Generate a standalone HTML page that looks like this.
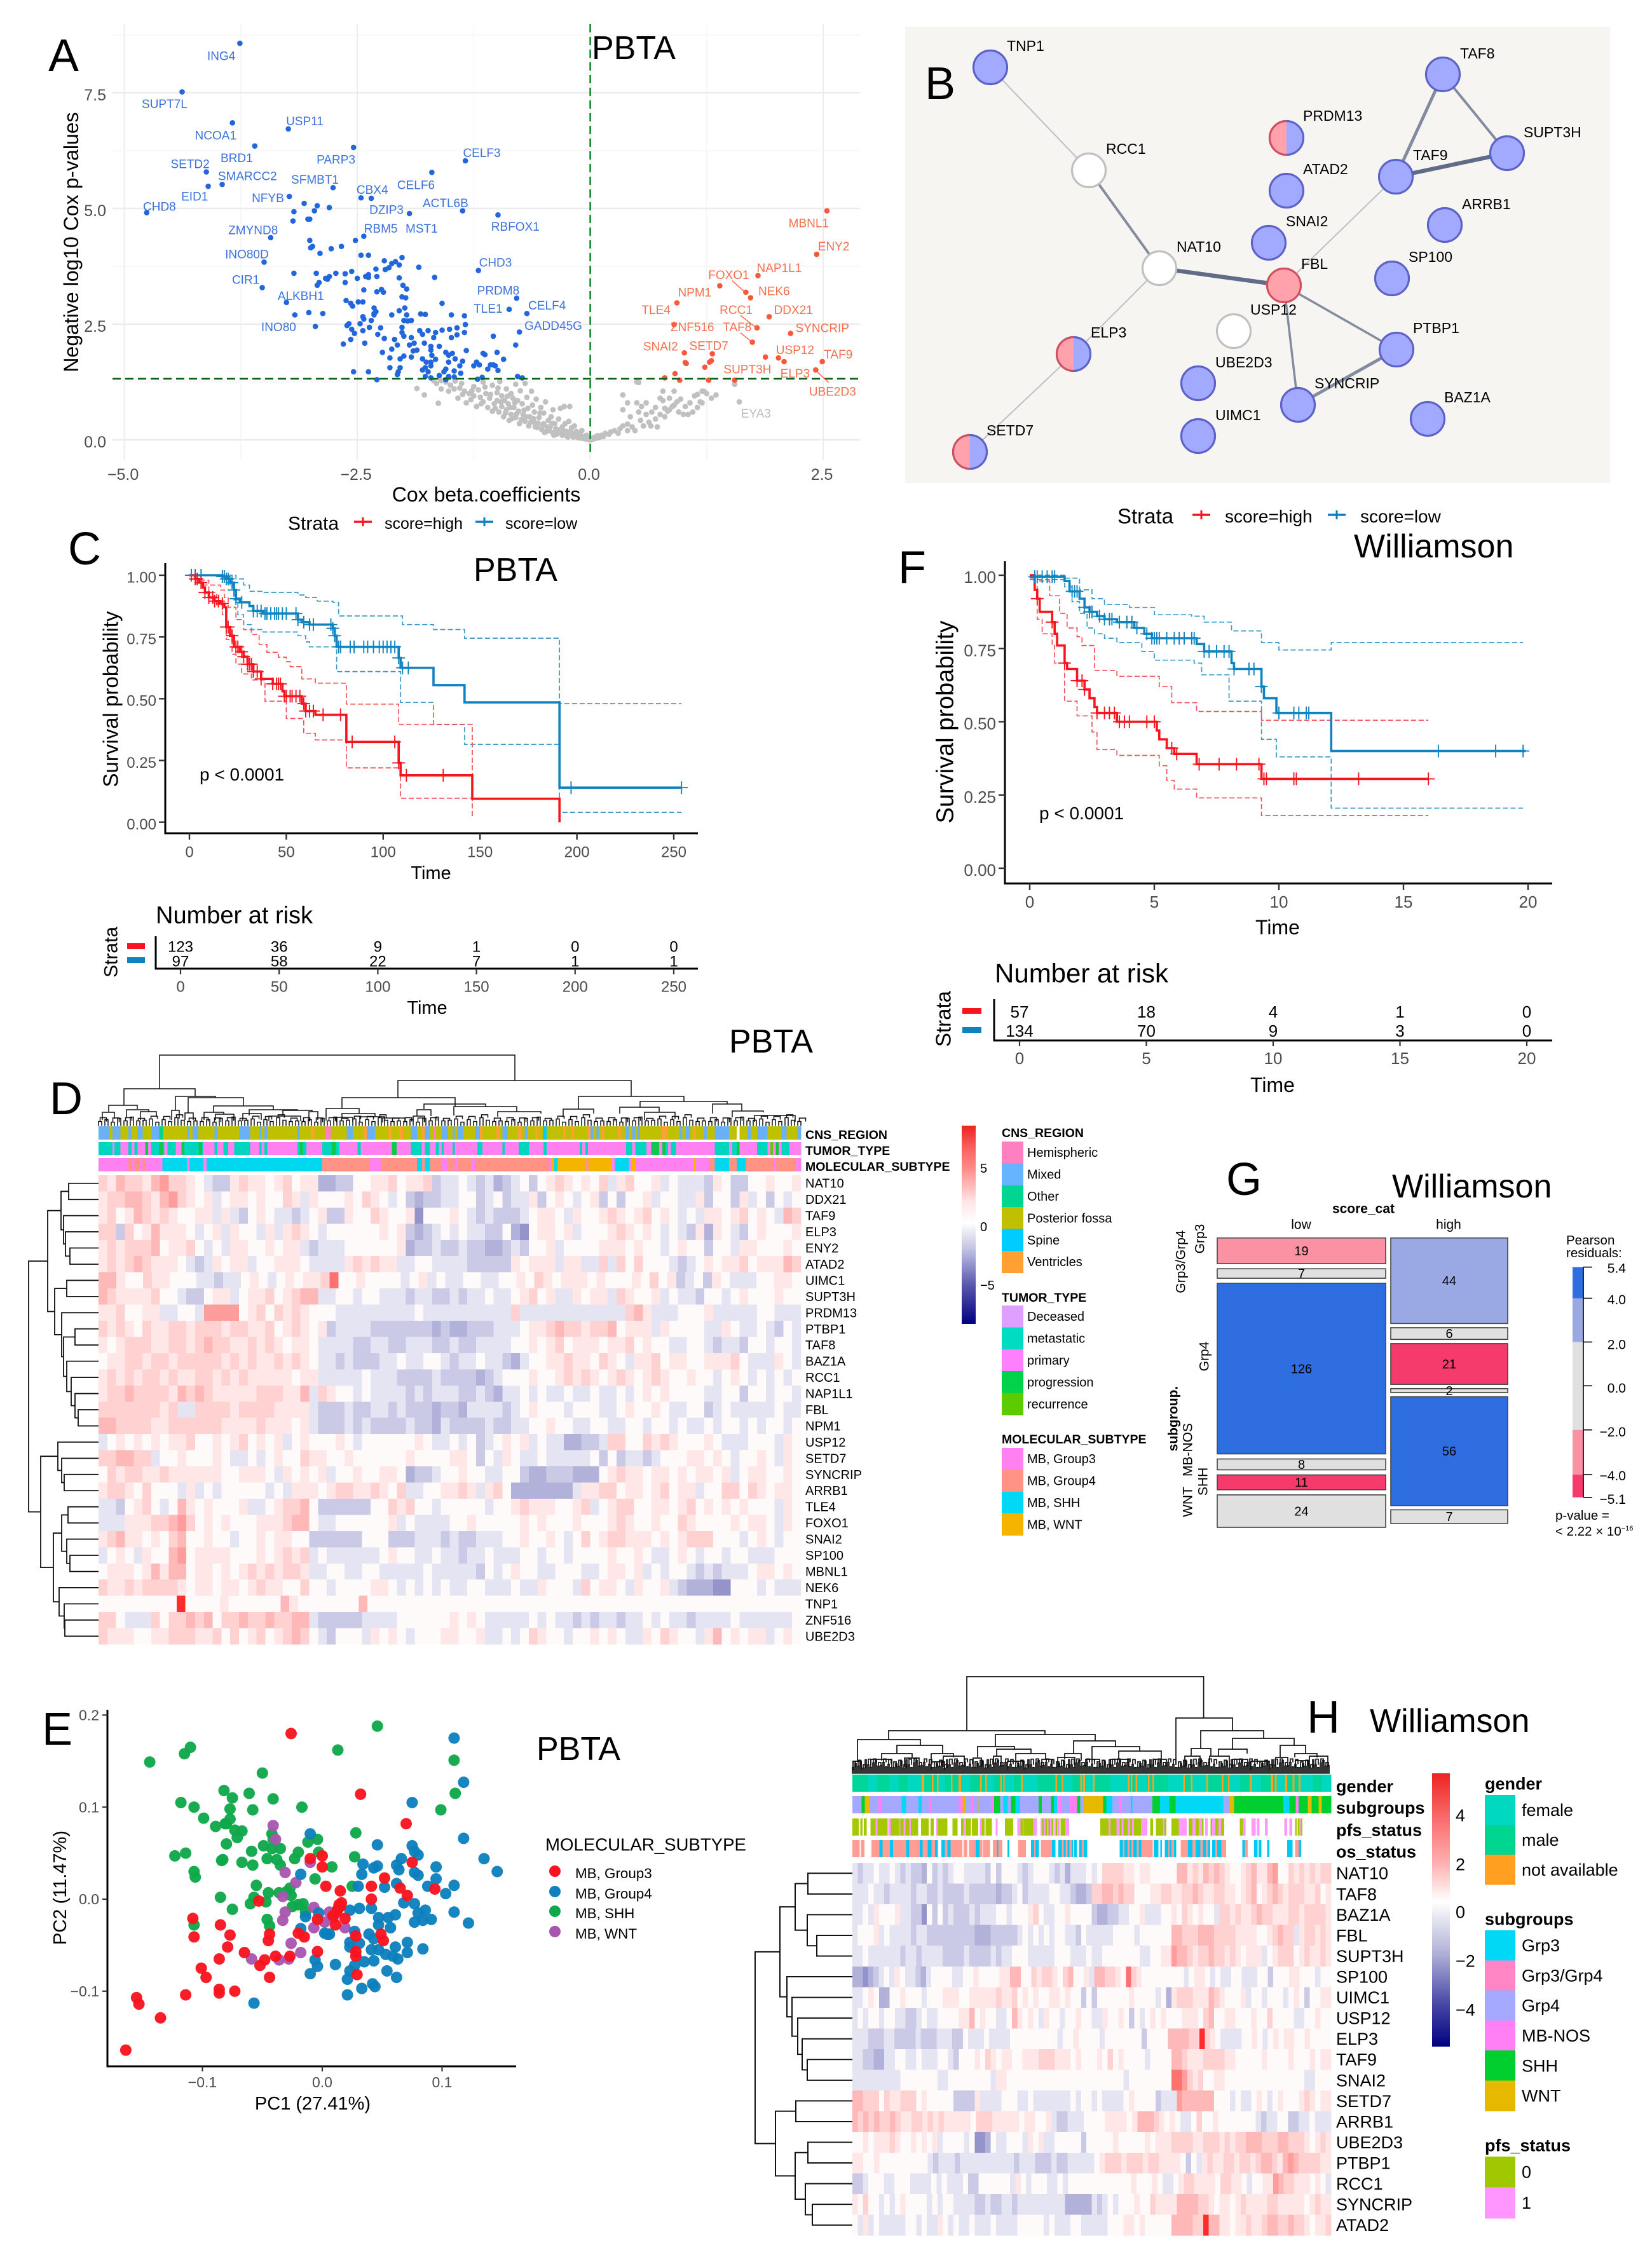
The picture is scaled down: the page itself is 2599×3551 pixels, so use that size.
<!DOCTYPE html>
<html lang="en">
<head>
<meta charset="utf-8">
<title>Multi-panel medulloblastoma figure</title>
<style>
html,body{margin:0;padding:0;background:#fff}
svg{display:block}
text{font-family:"Liberation Sans",Arial,sans-serif}
</style>
</head>
<body>
<svg id="fig" xmlns="http://www.w3.org/2000/svg" width="2599" height="3551" viewBox="0 0 2599 3551">
<rect x="0" y="0" width="2599" height="3551" fill="#fff"/>
<defs>
<linearGradient id="heatGradD" x1="0" y1="0" x2="0" y2="1">
<stop offset="0" stop-color="#ee2222"/><stop offset=".11" stop-color="#f96060"/><stop offset=".22" stop-color="#ff8c8c"/><stop offset=".38" stop-color="#ffe4e4"/><stop offset=".49" stop-color="#ffffff"/><stop offset=".62" stop-color="#c4c4e4"/><stop offset=".8" stop-color="#5a5ab0"/><stop offset="1" stop-color="#000080"/>
</linearGradient>
<linearGradient id="heatGradH" x1="0" y1="0" x2="0" y2="1">
<stop offset="0" stop-color="#ee2222"/><stop offset=".16" stop-color="#f96a6a"/><stop offset=".33" stop-color="#ffb0b0"/><stop offset=".47" stop-color="#ffffff"/><stop offset=".66" stop-color="#b0b0d8"/><stop offset=".84" stop-color="#4a4aa8"/><stop offset="1" stop-color="#000080"/>
</linearGradient>
</defs>
</svg>
<script>
/* ---------- Panel A: volcano data [beta, -log10 p] ---------- */
const volcanoBlue=[[-3.76,8.57],[-4.38,7.52],[-3.84,6.85],[-3.24,6.72],[-3.60,6.35],[-2.54,6.32],[-1.34,6.03],[-4.12,5.79],[-4.10,5.48],[-3.95,5.52],[-1.70,5.78],[-2.76,5.45],[-4.76,4.91],[-3.23,5.26],[-2.46,5.23],[-2.35,5.22],[-3.07,5.11],[-2.93,5.06],[-2.96,4.95],[-2.80,5.02],[-3.18,4.93],[-1.94,4.89],[-1.37,4.95],[-0.99,4.86],[-3.19,4.73],[-3.03,4.77],[-3.01,4.77],[-3.43,4.37],[-2.43,4.40],[-2.52,4.31],[-3.01,4.31],[-2.98,4.18],[-3.00,4.15],[-2.90,4.03],[-2.78,4.13],[-2.67,4.18],[-2.46,3.99],[-2.38,3.99],[-2.02,3.94],[-2.21,3.87],[-3.50,3.84],[-3.52,3.29],[-1.20,3.66],[-0.79,3.06],[-0.87,2.82],[-0.68,2.73],
[-2.30,3.69],[-2.20,3.68],[-2.16,3.72],[-2.13,3.81],[-2.09,3.85],[-2.05,3.78],[-1.84,3.73],[-2.38,3.57],[-2.41,3.53],[-2.56,3.64],[-2.63,3.59],[-2.73,3.60],[-2.80,3.53],[-2.82,3.47],[-2.84,3.49],[-2.94,3.60],[-3.18,3.60],[-1.67,3.51],[-2.05,3.50],[-2.50,3.49],[-2.38,3.51],[-2.29,3.53],
[-2.63,3.40],[-2.43,3.24],[-2.29,3.20],[-2.24,3.25],[-2.22,3.19],[-2.01,3.34],[-1.97,3.26],[-2.02,3.09],[-1.98,3.07],[-2.93,3.34],[-2.91,3.40],
[-2.62,3.01],[-2.57,2.95],[-2.55,2.89],[-2.49,2.98],[-2.44,2.98],[-2.32,2.85],[-2.30,2.77],[-2.32,2.73],[-1.99,2.85],[-2.05,2.79],[-1.59,2.95],[-3.26,2.97],
[-2.87,2.73],[-3.02,2.75],[-3.17,2.70],[-2.13,2.70],[-2.32,2.70],[-2.44,2.66],[-2.43,2.61],[-2.35,2.58],[-1.97,2.70],[-1.82,2.72],[-1.77,2.71],[-1.49,2.70],[-1.35,2.68],[-2.00,2.58],[-1.96,2.57],[-1.92,2.58],[-2.59,2.51],[-2.61,2.47],[-2.47,2.51],[-2.02,2.43],[-1.34,2.49],[-2.25,2.42],[-2.37,2.43],[-2.95,2.45],
[-2.56,2.39],[-2.53,2.30],[-2.44,2.36],[-2.28,2.28],[-2.21,2.19],[-2.65,2.07],[-2.57,2.17],[-2.42,2.09],[-2.10,2.17],[-2.02,2.32],[-2.00,2.24],[-1.92,2.21],[-1.83,2.36],[-1.80,2.28],[-1.74,2.36],[-1.66,2.32],[-1.59,2.37],[-1.51,2.39],[-1.43,2.42],[-1.35,2.32],[-1.43,2.27],[-1.49,2.21],[-1.68,2.21],[-1.78,2.09],[-1.89,2.09],[-1.94,2.05],[-2.07,2.05],[-2.13,1.96],[-1.71,2.02],[-1.62,2.02],[-1.04,2.24],[-0.76,2.33],[-0.80,2.05],
[-2.23,1.89],[-2.15,1.77],[-2.04,1.75],[-2.00,1.81],[-1.92,1.79],[-1.86,1.94],[-1.90,1.92],[-1.71,1.94],[-1.70,1.83],[-1.80,1.75],[-1.76,1.68],[-1.66,1.74],[-1.55,1.89],[-1.52,1.83],[-1.48,1.87],[-1.33,1.93],[-1.45,1.75],[-1.52,1.68],[-1.37,1.70],[-1.71,1.68],[-1.15,1.87],[-1.13,1.84],[-1.00,1.89],[-0.93,1.74],[-1.22,1.68],[-1.25,1.60],[-1.19,1.62],[-1.07,1.62],[-1.02,1.60],[-1.10,1.53],[-1.04,1.62],[-1.40,1.60],[-1.55,1.53],[-1.71,1.60],[-2.04,1.56],[-2.15,1.56],[-1.77,1.56],
[-2.54,1.47],[-2.38,1.47],[-2.06,1.47],[-2.07,1.41],[-1.80,1.51],[-1.74,1.47],[-1.57,1.47],[-1.46,1.49],[-1.39,1.44],[-1.77,1.37],[-1.62,1.39],[-1.52,1.37],[-1.46,1.36],[-1.16,1.35],[-1.21,1.31],[-0.99,1.50],[-0.78,1.37],[-0.73,1.34],[-2.29,1.30],[-1.55,1.30],[-1.71,1.34]];
const volcanoRed=[[2.54,4.95],[2.43,4.01],[1.80,3.55],[1.39,3.33],[1.67,3.19],[1.72,3.07],[0.93,2.96],[1.92,2.66],[1.79,2.42],[0.90,2.49],[2.15,2.30],[1.74,2.11],[1.01,1.88],[1.31,1.86],[1.30,1.71],[1.28,1.68],[1.23,1.57],[1.02,1.67],[1.03,1.65],[1.88,1.79],[2.02,1.77],[2.08,1.69],[2.49,1.69],[2.42,1.51],[0.91,1.43],[0.80,1.34],[0.96,1.29],[1.27,1.29],[1.55,1.29]];
const volcanoGray=[[-1.86,1.11],[-1.78,.97],[-1.63,.79],[-1.60,1.10],[-1.65,1.22],[-1.68,1.28],[-1.6,1.28],[-1.55,1.25],[-1.52,1.05],[-1.5,1.18],[-1.45,1.27],[-1.42,.9],[-1.4,1.12],[-1.38,1.22],[-1.35,1.05],[-1.33,.8],[-1.3,1.0],[-1.28,.87],[-1.25,1.15],[-1.25,.95],[-1.22,.72],[-1.2,1.08],[-1.18,.92],[-1.15,1.25],[-1.15,.82],[-1.12,1.0],[-1.1,.7],[-1.08,.9],[-1.05,1.18],[-1.05,.62],[-1.03,.78],[-1,1.02],[-1,.85],[-.98,.6],[-.97,1.26],[-.95,.95],[-.95,.72],[-.93,.5],[-.92,.85],[-.9,1.1],[-.9,.65],[-.88,.78],[-.87,.42],[-.85,1.0],[-.85,.55],[-.83,.9],[-.82,.7],[-.8,1.2],[-.8,.48],[-.78,.85],[-.77,.62],[-.76,.35],[-.75,1.06],[-.73,.78],[-.72,.55],[-.7,1.22],[-.7,.4],[-.68,.92],[-.67,.68],[-.66,.3],[-.65,.5],[-.63,1.05],[-.62,.75],[-.6,.38],[-.6,.6],[-.58,.88],[-.57,.27],[-.55,.48],[-.53,.7],[-.52,.22],[-.5,.35],[-.5,.58],[-.48,.82],[-.47,.18],[-.45,.42],[-.43,.28],[-.42,.5],[-.4,.15],[-.4,.65],[-.38,.35],[-.36,.12],[-.35,.22],[-.34,.45],[-.32,.68],[-.3,.1],[-.3,.28],[-.28,.72],[-.27,.35],[-.25,.08],[-.25,.18],[-.23,.4],[-.22,.72],[-.2,.12],[-.2,.26],[-.18,.06],[-.17,.3],[-.15,.18],[-.13,.05],[-.12,.12],[-.1,.09],[-.09,.2],[-.08,.03],[-.06,.07],[-.05,.02],[-.04,.1],[-.03,.04],[-.02,.01],[-.01,.02],[0,0],[.01,.01],[.02,.04],[.04,.02],[.05,.06],[.07,.04],[.08,.09],[.1,.05],[.12,.1],[.14,.07],[.16,.14],[.2,.12],[.22,.17],[.26,.2],[.3,.14],[.32,.24],[.35,.3],[.35,.65],[.35,.97],[.4,.2],[.4,.34],[.4,.8],[.43,.5],[.45,.28],[.48,.2],[.5,1.25],[.52,1.24],[.5,.8],[.52,.6],[.54,.42],[.55,.72],[.57,.3],[.6,.55],[.6,.8],[.63,.38],[.65,.3],[.66,.6],[.7,.45],[.7,.7],[.72,.28],[.75,.55],[.75,.9],[.78,1.05],[.78,.85],[.8,.5],[.8,.68],[.83,.62],[.85,.65],[.85,.9],[.88,.72],[.9,.75],[.9,1.05],[.93,.82],[.95,.6],[.97,.88],[1,.55],[1.02,.72],[1.05,.55],[1.07,.8],[1.1,.6],[1.12,.95],[1.15,.7],[1.15,.98],[1.18,.82],[1.2,.8],[1.2,1.05],[1.22,1.05],[1.25,1.0],[1.3,.9],[1.35,.97],[1.55,1.2],[1.60,.82],
[-1.46,1.1],[-1.37,.98],[-1.27,1.06],[-1.17,.78],[-1.13,1.14],[-1.07,.98],[-1.02,.68],[-.99,1.12],[-.96,.82],[-.91,.58],[-.89,.94],[-.86,.7],[-.84,.46],[-.81,.8],[-.79,.56],[-.74,.44],[-.71,.64],[-.69,.5],[-.64,.38],[-.61,.46],[-.59,.28],[-.56,.36],[-.54,.58],[-.51,.3],[-.49,.16],[-.46,.28],[-.44,.2],[-.41,.36],[-.39,.1],[-.37,.24],[-.33,.16],[-.29,.2],[-.26,.13],[-.24,.06],[-.21,.18],[-.19,.1],[-.16,.08],[-.14,.13],[-.11,.04],[-.07,.05]];

/* ---------- Panel C: PBTA Kaplan-Meier ---------- */
const cHighT=[0,3,5,7,8,10,13,16,18,19,21,23,26,28,30,33,37,43,48,49,58,60,65,81,108,109,146,191];
const cHighS=[1,.985,.97,.95,.93,.91,.895,.885,.87,.79,.755,.71,.69,.67,.64,.61,.58,.56,.53,.51,.48,.45,.435,.325,.24,.19,.095,0];
const cLowT=[0,17,19,21,23,24,26,31,33,38,56,58,62,74,75,76,108,109,126,142,191,254];
const cLowS=[1,.995,.985,.97,.94,.905,.89,.875,.855,.845,.82,.81,.80,.785,.755,.71,.665,.625,.555,.485,.14,.14];
const cLowUpT=[0,18,24,28,31,38,56,60,66,74,77,108,110,126,142,191,254];
const cLowUpS=[1,1,.985,.96,.935,.93,.92,.91,.895,.89,.835,.835,.80,.78,.745,.48,.48];
const cLowLoT=[0,18,21,23,25,28,32,38,56,60,62,75,76,108,109,126,142,191,254];
const cLowLoS=[1,.99,.96,.90,.84,.80,.78,.77,.755,.73,.71,.71,.61,.61,.485,.395,.315,.04,.04];
const cHighUpT=[0,6,10,16,18,20,24,28,32,36,40,46,50,52,58,65,81,108,146];
const cHighUpS=[1,.98,.96,.94,.91,.87,.82,.78,.76,.72,.688,.668,.65,.63,.58,.563,.478,.396,.025];
const cHighLoT=[0,6,10,14,17,19,22,24,27,32,39,50,59,65,81,109,146];
const cHighLoS=[1,.96,.93,.88,.84,.74,.68,.64,.60,.576,.49,.42,.36,.333,.22,.097,.097];
const cHighCens=[3,4,6,8,10,12,13,15,17,19,20,22,24,25,27,28,30,31,32,33,35,37,43,45,46,47,49,50,52,53,55,57,59,60,62,64,69,78,84,106,108,112,131];
const cLowCens=[1,3,6,17,18,19,20,22,23,24,27,33,35,37,39,40,42,44,45,46,48,50,55,56,59,62,64,73,74,75,77,78,83,85,90,92,95,98,100,102,104,106,108,110,113,197,254];
const cXTicks=[0,50,100,150,200,250];
const survTicks=[0,.25,.5,.75,1];
const cRiskHigh=[123,36,9,1,0,0];
const cRiskLow=[97,58,22,7,1,1];

/* ---------- Panel F: Williamson Kaplan-Meier ---------- */
const fHighT=[0,.2,.3,.4,.9,1,1.1,1.4,1.5,1.9,2.2,2.4,2.6,2.7,3.5,5.1,5.2,5.5,5.8,6.7,9.3,16];
const fHighS=[1,.95,.92,.875,.84,.80,.76,.70,.68,.64,.61,.58,.55,.53,.50,.47,.44,.41,.39,.355,.305,.305];
const fLowT=[0,1.4,1.6,2,2.2,2.4,2.7,3,3.5,4.2,4.6,4.9,6.7,7,8.1,8.2,9.3,9.4,9.9,12.1,19.9];
const fLowS=[.995,.98,.945,.92,.89,.875,.86,.85,.84,.82,.80,.785,.765,.74,.70,.68,.62,.58,.53,.40,.40];
const fLowUpT=[0,1.4,2,2.5,3,4,5,6.5,7,8.1,9.3,10,12.1,19.8];
const fLowUpS=[1,.99,.95,.92,.90,.89,.865,.86,.84,.81,.77,.745,.77,.77];
const fLowLoT=[0,1.4,1.7,2,2.3,2.6,3,3.5,4.5,5,6.6,6.9,8,9.3,9.9,12.1,19.8];
const fLowLoS=[.985,.96,.91,.87,.82,.80,.785,.77,.74,.71,.70,.66,.57,.44,.38,.205,.205];
const fHighUpT=[0,.4,.8,1.2,1.5,1.9,2.1,2.6,3.5,5.2,5.7,6.7,9.3,16];
const fHighUpS=[1,.98,.93,.87,.82,.79,.76,.675,.655,.62,.565,.535,.505,.505];
const fHighLoT=[0,.3,.5,.9,1,1.4,1.9,2.5,2.7,3.5,5.2,5.5,5.8,6.7,9.3,16];
const fHighLoS=[.99,.85,.80,.76,.70,.57,.52,.465,.405,.385,.35,.30,.27,.24,.18,.18];
const fHighCens=[.3,.9,1.4,1.9,2.1,2.2,2.7,3,3.2,3.4,3.6,3.8,4,4.7,5,5.7,5.9,6.8,7.6,8.3,9.2,9.4,9.5,10.6,10.7,13.2,16];
const fLowCens=[.2,.3,.5,.7,.9,1,1.7,1.8,1.9,2.2,2.4,2.5,2.8,3,3.2,3.3,3.6,3.9,4.1,4.3,4.7,4.9,5,5.1,5.2,5.5,5.8,6,6.2,6.5,6.6,7,7.2,7.5,7.8,8,8.2,8.8,9,9.3,10,10.6,10.8,11.1,11.2,16.4,18.7,19.8];
const fXTicks=[0,5,10,15,20];
const fRiskHigh=[57,18,4,1,0];
const fRiskLow=[134,70,9,3,0];

/* ---------- Panel E: PCA [PC1, PC2] ---------- */
const pcaShh=[[-.144,.149],[-.115,.158],[-.11,.165],[-.118,.105],[-.107,.1],[-.099,.088],[-.089,.079],[-.082,.118],[-.075,.11],[-.077,.098],[-.061,.115],[-.058,.097],[-.05,.137],[-.041,.109],[-.017,.1],[.013,.162],[.046,.188],[.11,.151],[.111,.115],[.099,.097],[-.08,.082],[-.081,.082],[-.077,.087],[-.073,.075],[-.067,.074],[-.071,.067],[-.08,.06],[-.059,.052],[-.049,.058],[-.042,.071],[-.041,.065],[-.042,.055],[-.035,.055],[-.046,.044],[-.038,.043],[-.035,.037],[-.023,.044],[-.02,.051],[-.012,.062],[-.004,.065],[-.003,.051],[.028,.072],[.027,.046],[.008,.035],[-.006,.022],[.025,.014],[-.123,.047],[-.114,.05],[-.083,.043],[-.084,.042],[-.067,.04],[-.058,.037],[-.107,.03],[-.106,.024],[-.055,.015],[-.045,.007],[-.085,.002],[-.075,-.011],[-.06,-.005],[-.057,.002],[-.047,-.003],[-.036,.007],[-.027,.012],[-.026,.004],[-.025,-.008],[-.016,-.005],[-.014,-.014],[-.046,-.022],[-.044,-.029],[-.107,-.028],[-.03,.008],[-.02,-.006]];
const pcaWnt=[[-.041,.08],[-.039,.065],[-.031,.029],[-.022,.018],[-.01,.04],[-.033,.003],[-.031,-.014],[-.033,-.023],[-.007,-.009],[-.007,-.031],[.006,-.014],[.002,-.025],[.019,-.031],[-.026,-.048],[-.018,-.058],[-.028,-.065],[-.036,-.066],[-.059,-.065],[.009,-.02]];
const pcaGroup4=[[.11,.175],[.118,.127],[.075,.105],[.118,.066],[.046,.059],[.075,.058],[-.01,.071],[.077,.052],[.135,.044],[.146,.03],[.08,.048],[.066,.044],[.062,.037],[.034,.038],[.043,.034],[.046,.036],[.033,.027],[-.018,.027],[.095,.035],[.064,.032],[.077,.029],[.08,.026],[.095,.022],[.062,.017],[.052,.013],[.03,.014],[.11,.015],[.088,.014],[.103,.006],[.077,-.005],[.068,-.004],[.031,-.01],[.041,-.01],[.023,-.012],[-.003,-.015],[-.014,-.019],[.11,-.014],[.086,-.012],[.08,-.015],[.077,-.025],[.084,-.023],[.091,-.022],[.122,-.026],[.047,-.02],[.061,-.017],[.055,-.02],[.047,-.028],[.057,-.031],[-.018,-.032],[.002,-.037],[.006,-.038],[.027,-.035],[.039,-.038],[.043,-.043],[.023,-.047],[.071,-.047],[.041,-.055],[.061,-.052],[.084,-.054],[.071,-.058],[.053,-.06],[.059,-.062],[.063,-.065],[.023,-.052],[-.006,-.066],[.011,-.071],[-.004,-.073],[-.01,-.081],[.035,-.068],[.043,-.067],[.027,-.072],[.023,-.078],[.021,-.087],[.054,-.078],[.062,-.085],[.033,-.097],[.042,-.092],[.044,-.095],[.021,-.104],[-.057,-.113],[.031,-.048],[.047,-.055],[.004,-.038]];
const pcaGroup3=[[-.026,.18],[.032,.114],[.07,.082],[.075,.04],[0,.047],[-.01,.044],[0,.035],[.003,.014],[.015,.009],[.041,.014],[.052,.023],[.065,.012],[.071,.004],[.094,.011],[.041,0],[-.053,-.002],[.015,-.008],[.013,-.011],[.009,-.018],[.019,-.021],[-.004,-.022],[.011,-.028],[-.108,-.021],[-.085,-.028],[-.077,-.039],[-.107,-.041],[-.044,-.038],[-.045,-.045],[-.079,-.052],[-.02,-.037],[-.015,-.041],[.028,-.04],[.049,-.038],[.051,-.045],[.028,-.057],[.028,-.062],[-.004,-.057],[-.027,-.062],[-.039,-.062],[-.048,-.066],[-.052,-.072],[-.065,-.058],[-.086,-.065],[-.101,-.075],[-.097,-.085],[-.044,-.085],[.029,-.082],[-.086,-.098],[-.086,-.102],[-.073,-.1],[-.114,-.104],[-.155,-.107],[-.153,-.114],[-.135,-.129],[-.164,-.164],[.014,-.006],[.016,-.004],[.012,-.014]];
const pcaXTicks=[-.1,0,.1];
const pcaYTicks=[-.1,0,.1,.2];

/* ---------- Panel G: mosaic ---------- */
const mosaicLowCounts=[19,7,126,8,11,24];
const mosaicHighCounts=[44,6,21,2,56,7];
const mosaicLowResid=[-3.5,.8,4.6,.2,-4.5,1.2];
const mosaicHighResid=[3.5,-.5,-4.6,-1,5.4,-1.2];

/* ---------- Panel D: heatmap levels (one char per block) ---------- */
const geneNamesD=["NAT10","DDX21","TAF9","ELP3","ENY2","ATAD2","UIMC1","SUPT3H","PRDM13","PTBP1","TAF8","BAZ1A","RCC1","NAP1L1","FBL","NPM1","USP12","SETD7","SYNCRIP","ARRB1","TLE4","FOXO1","SNAI2","SP100","MBNL1","NEK6","TNP1","ZNF516","UBE2D3"];
const heatRowsD=[
"76877689776543367665675662233556675667344543423453567656574675564544436533556556",
"67788768976564566565576465556576545323344553453446356545635355645544635536453545",
"67568767655664643565443456336557655615556543433345665465567656756545466567565487",
"77375686665456465546467654555555656323454544335215665645556765654543626543565556",
"67677785667545466556566434445555556233433433223435564555566656554565535546655565",
"67678766654346566455666544446767664455444433333656664664474757555434565667566687",
"88655766555443445654565667R5565555456454455445565765666565556575634536544455665",
"87666675543356645667567884455455444344334344544567564465664765564544355456555655",
"66755664455499995675767655544444444454444444444744444444444478644455564444455444",
"76765766776777677667567656344443333333232233344456678776778566646555544654454354",
"65677766776787766767656654444334433444334334444556567566656675655445543443554554",
"56677677677777676766767654434333445445543445443245566766576546675665566675444654",
"67676776766776767666665664444454443333433332345556556767656765676556554565454545",
"67787777687876666677766847655454444343444334324454544544544545656555544553554554",
"77777776744777767777666643334334434333233244443456555455544565565445534544444544",
"88777766777777666676665643334343333433243333433445565544554455455454454554545545",
"45656565667556567565645655565455555565445453456564544223347755767655565444555465",
"77887745565556544545655766556555555655556653546544544444535344345556656545565465",
"57677667666666556665465656455655665233455655445532233322256766566565665645665565",
"67765755546454555554546665677667657445566764675222222246677566567566455775765665",
"44356754586565556445677853333335576755455555455676665567456775566567565656555465",
"44466677897565655566678854455555564544445565555565655565556765565576555565665465",
"67866565785565545565665533333355533344434334445565565457567766656567775554565455",
"45654655895666655565676745444444565544544344544455455455556556544565455455444555",
"56665686885665656767677644554455444445444443545655445554456656454554343444566565",
"76676777765665665676655755455556654545454455444544655547566546556432221155545444",
"555555555S55556555555865555555855555555555555555555555555555555555555555555555555",
"77544475778785778778778843333344445555556565444445454434344344545443444454444445",
"76665566777667575675678754355546565455566556445457655455656544657655468565664565"
];
/* ---------- Panel H: heatmap levels ---------- */
const geneNamesH=["NAT10","TAF8","BAZ1A","FBL","SUPT3H","SP100","UIMC1","USP12","ELP3","TAF9","SNAI2","SETD7","ARRB1","UBE2D3","PTBP1","RCC1","SYNCRIP","ATAD2"];
const heatRowsH=[
"434454454343325343455444435355543455543424445457777665665555588676878765567866895576767677",
"444544344443443343333433333233453444455443223778878775556677667787667766567856787677766756",
"445465556443315353433343444554555675445565555322334455644455657656554776766787766677677776",
"455564544443443333333332223333345454545544354444455554555555887778887777666655678774677676",
"445444444344344443333433334344555444445554445445555555445566988767787767656664567775676676",
"2212345465443245555445565555668855767765785564887765R76555555554566545445544455355566555455",
"445652255655545556665566666766756565566565535355555565555452677766687655564554555456535566",
"454554554433454455556685655445865654655455655446556535456565556665785566555655755554455655",
"444333443333433344433544454444555555555455655554555555535555888877S765444455654565665565555",
"443322445544544455435556576566556667776665655565756555545555887666777766555556555565556566",
"444444444555555544555555554665555555555555555555555455555555RR9767556655555555555555544555",
"887775766777565555533336444455544544444445455454444565555344498888885554544565456555676566",
"87878778766776767666665777666665665564334445555666656888765654457556555555543445533445444",
"556566676556565645555451125445554656445555535555565555565666777766777676778887778877765676",
"66556555555555434443444444444434443334334444456777677767766665354676677677678876898777766",
"3345554455544445454445335555554654555445455555555555565556544567766665776654556698776665654",
"657554545655554545544443343344344444444422222434545556557666688887765665676666776666656766",
"546454444455454465454454445444455555454445544444555665655555888877S88665667667887787765667"
];
/* ---------- Heatmap annotation tracks: category + relative run length ---------- */
const annCnsD="B48 O14 B34 O36 B14 O26 B22 O40 B34 E16 O107 B10 O13 B26 O71 B13 O97 B47 O40 B10 O13 B13 O130 B14 O48 T15 O47 H26 O70 B27 O47 T14 B36 O61 T14 O33 T15 O35 B27 O21 T14 B23 O12 H13 O27 B27 O20 B10 O12 B26 O50 B22 T12 O60 T16 O12 B22 O46 T14 O16 B12 O35 T13 O20 C17 O73 T10 O24 T14 O60 T12 B12 O15 B10 O10 T13 O62 T12 O23 B13 O14 B13 O10 B11 O96 T28 O50 B12 O14 B20 O14 T13 O35 B12 O36 B62 O34 W12 O36 B15 O27 B46 O62 B22 O48 B15";
const annTumorD="T62 M8 T26 M36 T14 M12 T14 M34 G12 M14 T36 G16 T6 M14 T36 M26 G12 T63 G15 T5 M50 T13 M26 T22 M26 T70 M40 T10 M13 T13 M132 T12 G13 T15 M70 T40 G20 T15 M81 T14 M137 G21 M62 T48 M14 T23 M25 T14 M13 T8 M19 M20 T10 M100 T22 M88 T10 M62 T46 M62 T15 M145 T12 M14 T10 M169 T27 M13 T50 M20 G35 M14 G14 T12 M12 T22 M172 T62 M14 T20 G12 M78 T46 M12 L12 M13 G12 M13 T35 M50";
const annSubD="M132 S14 M12 S24 M12 S12 M76 C109 M9 C61 M15 C510 S210 M48 S159 C23 S12 C23 S52 M27 S30 M12 S63 M13 S20 S307 M10 Y13 C14 Y128 M8 Y104 M14 C62 M12 Y14 M256 Y13 M57 S26 C62 S34 C40 S120 M13 S85 M25";
const annGenderH="M50 F30 M40 F30 M30 F45 N8 M25 N5 M12 N5 F20 M20 N5 M20 N8 F30 M32 N5 M12 N5 F23 M20 N5 M5 N5 F30 M23 N5 F50 M57 N5 M15 N5 F30 M25 N6 M4 N6 F26 N5 M50 F58 N5 M5 N5 M10 N5 F35 N5 M10 N5 M45 F50 N5 M20 N5 F45 N5 M45 N5 M15 N5 F35 M32 N5 F30 M33 N7 M5 N6 F27 N8 M17 N6 M14 N6 F40 M30 F29";
const annSubH="L30 G10 W15 L30 P10 L65 C15 L40 C10 L25 P8 L87 P13 W7 L20 P7 L18 W5 L35 P10 G20 L10 C15 L10 G15 C15 L60 G10 L30 G10 C10 P15 L25 P25 G10 L10 W65 G10 C20 L20 P10 L30 C5 L65 G25 C30 G20 C155 L20 W15 G160 C20 G20 P10 G30 W12 G23 W10 G30";
const annPfsH="A20 _5 A7 _5 A8 _13 A16 B6 A32 _3 B8 A26 B5 A10 B6 A12 B5 A23 _10 A23 _7 A10 _8 B5 A30 _17 A16 _12 A8 _2 B6 A15 _3 A20 _6 B6 A8 _4 A20 _12 B6 _24 A26 _14 B10 A6 _2 A32 B12 _12 B5 A5 B5 A5 B5 A5 B5 A6 _3 B5 A4 B8 _3 A15 B12 _100 A26 B6 A20 B10 A6 B6 A14 B6 A8 B6 A22 B20 _10 A8 _10 A22 B5 A6 _17 A23 B25 _7 A12 B10 A10 B10 A5 _5 B8 _10 A5 B10 A10 B8 A10 _50 A10 B8 _20 B12 _5 B8 _18 B8 _54 B8 _8 B8 _10 A5 _3 A5 B5 A5 _92";
const annOsH="S22 _4 S10 _22 S24 C10 S22 C10 S40 C10 S32 C8 S16 C12 S10 C8 _12 C10 S8 C10 S35 _5 S10 _6 S20 C12 S8 _3 S20 _10 S12 C4 S12 _16 C6 _26 S24 _16 C10 S4 C10 _6 S34 C10 _10 C10 S6 C6 S6 C6 S6 C4 _3 C8 _8 C8 S6 C10 _100 C10 S4 C10 S6 C6 S6 C10 S6 C8 S34 _4 C14 _6 C4 _10 C10 S4 C6 S8 C6 _14 S22 C14 S10 C14 S8 C10 S6 C6 _6 C10 S6 C12 S14 _50 C8 S8 _20 C10 _4 C8 _18 C6 _55 C16 _8 S6 S6 C6 _92";
const legendCns=[["Hemispheric","#ff80c0"],["Mixed","#66b3ff"],["Other","#00d68f"],["Posterior fossa","#c0c000"],["Spine","#00ccff"],["Ventricles","#ffa033"]];
const legendTumor=[["Deceased","#dda0ff"],["metastatic","#00dcc0"],["primary","#ff80ff"],["progression","#00d24a"],["recurrence","#5ccc00"]];
const legendMol=[["MB, Group3","#ff80f0"],["MB, Group4","#ff9185"],["MB, SHH","#00d8f5"],["MB, WNT","#f5b400"]];
const legendGender=[["female","#00d8c0"],["male","#00d68f"],["not available","#ffa020"]];
const legendSubgroups=[["Grp3","#00d8f5"],["Grp3/Grp4","#ff85c4"],["Grp4","#a4a9ff"],["MB-NOS","#ff80f5"],["SHH","#00cf30"],["WNT","#e6b800"]];
const legendPfs=[["0","#a0c800"],["1","#ff96ff"]];

/* ---------- Network (panel B) ---------- */
const netEdges=[["TNP1","RCC1",2],["RCC1","NAT10",4],["NAT10","FBL",6.5],["NAT10","ELP3",2],["ELP3","SETD7",2],["FBL","TAF9",2],["FBL","PTBP1",3.5],["FBL","SYNCRIP",3.5],["PTBP1","SYNCRIP",5],["TAF8","TAF9",5],["TAF8","SUPT3H",4],["TAF9","SUPT3H",6.5]];

/* ---------- helpers ---------- */
const NS="http://www.w3.org/2000/svg";
const fig=document.getElementById('fig');
function el(parent,tag,attrs,name){
  const e=document.createElementNS(NS,tag);
  for(const k in attrs){e.setAttribute(k,attrs[k]);}
  
  
  parent.appendChild(e);
  return e;
}
function group(name,extra){return el(fig,'g',extra||{},name);}
function txt(p,x,y,s,size,o,name){
  o=o||{};
  const a={x:x,y:y,'font-size':size,fill:o.fill||'#000'};
  if(o.anchor)a['text-anchor']=o.anchor;
  if(o.weight)a['font-weight']=o.weight;
  if(!o.base)a.dy='0.35em';
  if(o.rot)a.transform='rotate('+o.rot+' '+x+' '+y+')';
  const t=el(p,'text',a,name||('label-'+String(s).toLowerCase().replace(/[^a-z0-9]+/g,'-')));
  t.textContent=s;
  return t;
}
function fmtNeg(v,d){const s=Math.abs(v).toFixed(d);return (v<0?'\u2212':'')+s;}
function stepPath(ts,ss,X,Y){
  let d='M'+X(ts[0]).toFixed(1)+' '+Y(ss[0]).toFixed(1);
  for(let i=1;i<ts.length;i++){d+='H'+X(ts[i]).toFixed(1)+'V'+Y(ss[i]).toFixed(1);}
  return d;
}
function stepAt(ts,ss,t){let s=ss[0];for(let i=0;i<ts.length;i++){if(ts[i]<=t)s=ss[i];}return s;}

/* ---------- Panel A ---------- */
(function(){
  const g=group('volcano-plot');
  const X=function(v){return 928.6+146.6*v;};
  const Y=function(v){return 692-72.8*v;};
  const xg=[-5,-3.75,-2.5,-1.25,0,1.25,2.5];
  const yg=[0,1.25,2.5,3.75,5,6.25,7.5,8.75];
  xg.forEach(function(v,i){el(g,'line',{x1:X(v),x2:X(v),y1:38,y2:724,stroke:i%2?'#f3f3f3':'#ececec','stroke-width':i%2?1.2:2},'x-gridline');});
  yg.forEach(function(v,i){el(g,'line',{x1:177,x2:1353,y1:Y(v),y2:Y(v),stroke:i%2?'#f3f3f3':'#ececec','stroke-width':i%2?1.2:2.4},'y-gridline');});
  volcanoGray.forEach(function(p){el(g,'circle',{cx:X(p[0]),cy:Y(p[1]),r:4.4,fill:'#c0c0c0'},'point-not-significant');});
  volcanoBlue.forEach(function(p){el(g,'circle',{cx:X(p[0]),cy:Y(p[1]),r:4.3,fill:'#2166dc'},'point-protective');});
  volcanoRed.forEach(function(p){el(g,'circle',{cx:X(p[0]),cy:Y(p[1]),r:4.3,fill:'#f8583a'},'point-risk');});
  el(g,'line',{x1:X(0),x2:X(0),y1:38,y2:716,stroke:'#128a2c','stroke-width':2.6,'stroke-dasharray':'13 7'},'vertical-threshold-line');
  el(g,'line',{x1:177,x2:1357,y1:Y(1.32),y2:Y(1.32),stroke:'#0a661c','stroke-width':2.6,'stroke-dasharray':'13 7'},'horizontal-threshold-line');
  [-5,-2.5,0,2.5].forEach(function(v){txt(g,X(v)-2,746,fmtNeg(v,1),25,{anchor:'middle',fill:'#4d4d4d'},'x-tick-label');});
  [0,2.5,5,7.5].forEach(function(v){txt(g,167,Y(v)+3,fmtNeg(v,1),25,{anchor:'end',fill:'#4d4d4d'},'y-tick-label');});
  txt(g,765,778,'Cox beta.coefficients',32,{anchor:'middle'},'x-axis-title');
  txt(g,112,381,'Negative log10 Cox p-values',32,{anchor:'middle',rot:-90},'y-axis-title');
  const blueLabelLayout=[["ING4",390,160],["SUPT7L",290,298],["USP11",537,347],["NCOA1",380,388],["BRD1",417,453],["PARP3",592,457],["CELF3",849,438],["SETD2",335,470],["SMARCC2",436,505],["SFMBT1",555,515],["CBX4",656,544],["CELF6",733,530],["EID1",343,563],["NFYB",472,568],["ACTL6B",785,582],["CHD8",281,592],["DZIP3",681,601],["RBM5",671,655],["MST1",743,655],["RBFOX1",908,650],["ZMYND8",446,660],["INO80D",435,729],["CHD3",873,753],["CIR1",433,802],["PRDM8",878,833],["ALKBH1",530,848],["TLE1",860,885],["CELF4",964,876],["INO80",491,938],["GADD45G",975,934]];
  const redLabelLayout=[["MBNL1",1425,640],["ENY2",1469,706],["NAP1L1",1373,768],["FOXO1",1284,788],["NPM1",1224,838],["NEK6",1364,835],["TLE4",1156,888],["RCC1",1297,888],["DDX21",1398,888],["ZNF516",1220,938],["TAF8",1299,938],["SYNCRIP",1449,940],["SNAI2",1164,993],["SETD7",1249,991],["USP12",1401,1003],["TAF9",1477,1016],["SUPT3H",1317,1059],["ELP3",1401,1071],["UBE2D3",1467,1123]];
  blueLabelLayout.forEach(function(l){txt(g,l[1]/1.12,l[2]/1.823,l[0],19,{anchor:'middle',fill:'#3c72dc'},'gene-label-'+l[0].toLowerCase());});
  redLabelLayout.forEach(function(l){txt(g,l[1]/1.12,l[2]/1.823,l[0],19,{anchor:'middle',fill:'#f4704f'},'gene-label-'+l[0].toLowerCase());});
  txt(g,1332/1.12,1186/1.823,'EYA3',19,{anchor:'middle',fill:'#bdbdbd'},'gene-label-eya3');
  [[1290,805,1314,840],[1305,905,1334,942],[1305,955,1326,982],[1437,1062,1460,1097]].forEach(function(c){
    el(g,'line',{x1:c[0]/1.12,y1:c[1]/1.823,x2:c[2]/1.12,y2:c[3]/1.823,stroke:'#f4604a','stroke-width':1.4},'gene-label-connector');
  });
})();

/* ---------- Strata legends ---------- */
function strataLegend(x0,sy,size,fs,rx,r1,bx,b1,name){
  const g=group(name);
  txt(g,x0,sy,'Strata',size,{},'legend-title');
  [[rx,'#f8141e','score=high',r1],[bx,'#0d80bd','score=low',b1]].forEach(function(e){
    el(g,'line',{x1:e[0]-14,x2:e[0]+14,y1:sy-2,y2:sy-2,stroke:e[1],'stroke-width':3.5},'legend-key-line');
    el(g,'line',{x1:e[0],x2:e[0],y1:sy-9,y2:sy+5,stroke:e[1],'stroke-width':3},'legend-key-censor');
    txt(g,e[3],sy,e[2],fs,{},'legend-entry-'+e[2].replace('=','-'));
  });
}
strataLegend(453,823,30,25,571,605,762,795,'strata-legend-a');
strataLegend(1758,812,33,28,1890,1927,2103,2140,'strata-legend-b');

/* ---------- Panel B ---------- */
(function(){
  const g=group('protein-network');
  el(g,'rect',{x:1424,y:42,width:1109,height:718,fill:'#f7f5f2'},'network-background');
  const nodes={TNP1:[1558,106,'b',1584,72],RCC1:[1713,268,'w',1740,234],PRDM13:[2024,217,'h',2050,182],ATAD2:[2024,300,'b',2050,266],TAF8:[2270,117,'b',2297,84],SUPT3H:[2371,241,'b',2397,208],TAF9:[2196,278,'b',2223,244],ARRB1:[2273,354,'b',2300,321],SNAI2:[1996,382,'b',2023,348],NAT10:[1824,422,'w',1851,388],FBL:[2020,449,'r',2047,415],SP100:[2190,438,'b',2216,404],USP12:[1941,521,'w',1967,487],ELP3:[1689,557,'h',1716,523],PTBP1:[2197,550,'b',2223,516],UBE2D3:[1885,603,'b',1912,570],SYNCRIP:[2042,637,'b',2068,603],BAZ1A:[2246,659,'b',2272,625],UIMC1:[1885,686,'b',1912,653],SETD7:[1526,711,'h',1552,677]};
  netEdges.forEach(function(e){
    const a=nodes[e[0]],b=nodes[e[1]];
    const w=e[2];
    const col=w>5?'#5f6c88':(w>3?'#838c9f':'#bcbfc6');
    el(g,'line',{x1:a[0],y1:a[1],x2:b[0],y2:b[1],stroke:col,'stroke-width':w},'network-edge-'+e[0].toLowerCase()+'-'+e[1].toLowerCase());
  });
  Object.keys(nodes).forEach(function(k){
    const n=nodes[k];
    const nm='network-node-'+k.toLowerCase();
    const r=26.5;
    if(n[2]==='h'){
      el(g,'circle',{cx:n[0],cy:n[1],r:r,fill:'#a2aaff',stroke:'#5c62c8','stroke-width':3.2},nm);
      el(g,'path',{d:'M'+n[0]+' '+(n[1]-r)+'A'+r+' '+r+' 0 0 0 '+n[0]+' '+(n[1]+r)+'Z',fill:'#ffa2ab'},nm+'-risk-half');
      el(g,'path',{d:'M'+n[0]+' '+(n[1]-r)+'A'+r+' '+r+' 0 0 0 '+n[0]+' '+(n[1]+r),fill:'none',stroke:'#d2505e','stroke-width':3.2},nm+'-risk-outline');
    }else{
      const f=n[2]==='b'?'#a2aaff':(n[2]==='r'?'#ffa2ab':'#fff');
      const s=n[2]==='b'?'#5c62c8':(n[2]==='r'?'#d2505e':'#c0c0c0');
      el(g,'circle',{cx:n[0],cy:n[1],r:r,fill:f,stroke:s,'stroke-width':3.2},nm);
    }
    txt(g,n[3],n[4],k,23,{},'network-label-'+k.toLowerCase());
  });
})();

/* ---------- Kaplan-Meier panels ---------- */
function kmPanel(c){
  const g=group(c.name);
  const X=c.X,Y=c.Y;
  const red='#f8141e',blue='#0f83bf';
  c.ci.forEach(function(s){
    el(g,'path',{d:stepPath(s[0],s[1],X,Y),fill:'none',stroke:s[2]==='r'?'#f6505a':'#3a99c8','stroke-width':1.7,'stroke-dasharray':'8 4'},s[3]);
  });
  el(g,'path',{d:stepPath(c.lowT,c.lowS,X,Y),fill:'none',stroke:blue,'stroke-width':3.6},'survival-curve-score-low');
  el(g,'path',{d:stepPath(c.highT,c.highS,X,Y),fill:'none',stroke:red,'stroke-width':3.6},'survival-curve-score-high');
  function cens(list,ts,ss,col,nm){
    list.forEach(function(t){
      const x=X(t),y=Y(stepAt(ts,ss,t));
      el(g,'path',{d:'M'+(x-10)+' '+y+'H'+(x+10)+'M'+x+' '+(y-10)+'V'+(y+10),stroke:col,'stroke-width':1.9,fill:'none'},nm);
    });
  }
  cens(c.lowCens,c.lowT,c.lowS,blue,'censor-mark-low');
  cens(c.highCens,c.highT,c.highS,red,'censor-mark-high');
  el(g,'path',{d:'M'+c.ax+' '+c.top+'V'+c.ay+'H'+c.right,fill:'none',stroke:'#000','stroke-width':3},'km-axes');
  survTicks.forEach(function(v){
    el(g,'line',{x1:c.ax-10,x2:c.ax,y1:Y(v),y2:Y(v),stroke:'#333','stroke-width':2.4},'y-tick');
    txt(g,c.ax-14,Y(v)+3,v.toFixed(2),c.tickFs,{anchor:'end',fill:'#4d4d4d'},'y-tick-label');
  });
  c.xTicks.forEach(function(v){
    el(g,'line',{x1:X(v),x2:X(v),y1:c.ay,y2:c.ay+10,stroke:'#333','stroke-width':2.4},'x-tick');
    txt(g,X(v),c.ay+29,String(v),c.tickFs,{anchor:'middle',fill:'#4d4d4d'},'x-tick-label');
  });
  txt(g,c.timeX,c.timeY,'Time',c.timeFs,{anchor:'middle'},'x-axis-title');
  txt(g,c.yTitleX,c.yTitleY,'Survival probability',c.yTitleFs,{anchor:'middle',rot:-90},'y-axis-title');
  txt(g,c.pX,c.pY,'p < 0.0001',28,{},'p-value');
  /* risk table */
  const tb=group(c.name+'-risk-table');
  txt(tb,c.rtX,c.rtY,'Number at risk',c.rtFs,{},'risk-table-title');
  el(tb,'path',{d:'M'+c.rax+' '+c.rtop+'V'+c.ray+'H'+c.right,fill:'none',stroke:'#000','stroke-width':3},'risk-table-axes');
  const RX=function(v){return c.rx0+(c.rx1-c.rx0)*(v-c.xTicks[0])/(c.xTicks[c.xTicks.length-1]-c.xTicks[0]);};
  c.xTicks.forEach(function(v,i){
    el(tb,'line',{x1:RX(v),x2:RX(v),y1:c.ray,y2:c.ray+9,stroke:'#333','stroke-width':2.2},'risk-x-tick');
    txt(tb,RX(v),c.ray+28,String(v),c.tickFs,{anchor:'middle',fill:'#4d4d4d'},'risk-x-tick-label');
    txt(tb,RX(v),c.ry1,String(c.riskHigh[i]),c.riskFs,{anchor:'middle'},'risk-count-high');
    txt(tb,RX(v),c.ry2,String(c.riskLow[i]),c.riskFs,{anchor:'middle'},'risk-count-low');
  });
  el(tb,'rect',{x:c.bx,y:c.by1,width:c.bw,height:c.bh,fill:'#f8141e'},'risk-strata-key-high');
  el(tb,'rect',{x:c.bx,y:c.by2,width:c.bw,height:c.bh,fill:'#0f83bf'},'risk-strata-key-low');
  txt(tb,c.sX,c.sY,'Strata',c.sFs,{anchor:'middle',rot:-90},'risk-strata-title');
  txt(tb,c.rtimeX,c.rtimeY,'Time',c.timeFs,{anchor:'middle'},'risk-x-axis-title');
}
kmPanel({name:'km-plot-pbta',X:function(t){return 298+3.048*t;},Y:function(s){return 1293.6-388.6*s;},
  highT:cHighT,highS:cHighS,lowT:cLowT,lowS:cLowS,highCens:cHighCens,lowCens:cLowCens,
  ci:[[cLowUpT,cLowUpS,'b','ci-upper-low'],[cLowLoT,cLowLoS,'b','ci-lower-low'],[cHighUpT,cHighUpS,'r','ci-upper-high'],[cHighLoT,cHighLoS,'r','ci-lower-high']],
  ax:260,ay:1311,top:886,right:1098,tickFs:24,xTicks:cXTicks,timeX:678,timeY:1373,timeFs:29,yTitleX:174,yTitleY:1100,yTitleFs:33,pX:314,pY:1218,
  rtX:245,rtY:1439,rtFs:38,rax:245,rtop:1473,ray:1524,rx0:284,rx1:1060,ry1:1489,ry2:1512,riskFs:24,riskHigh:cRiskHigh,riskLow:cRiskLow,
  bx:200,by1:1484,by2:1506,bw:28,bh:9,sX:174,sY:1498,sFs:30,rtimeX:672,rtimeY:1585});
kmPanel({name:'km-plot-williamson',X:function(t){return 1620+39.2*t;},Y:function(s){return 1366-461*s;},
  highT:fHighT,highS:fHighS,lowT:fLowT,lowS:fLowS,highCens:fHighCens,lowCens:fLowCens,
  ci:[[fLowUpT,fLowUpS,'b','ci-upper-low'],[fLowLoT,fLowLoS,'b','ci-lower-low'],[fHighUpT,fHighUpS,'r','ci-upper-high'],[fHighLoT,fHighLoS,'r','ci-lower-high']],
  ax:1581,ay:1390,top:883,right:2442,tickFs:26,xTicks:fXTicks,timeX:2010,timeY:1459,timeFs:32,yTitleX:1486,yTitleY:1136,yTitleFs:38,pX:1635,pY:1279,
  rtX:1565,rtY:1531,rtFs:42,rax:1564,rtop:1572,ray:1637,rx0:1604,rx1:2402,ry1:1592,ry2:1622,riskFs:26,riskHigh:fRiskHigh,riskLow:fRiskLow,
  bx:1514,by1:1586,by2:1616,bw:30,bh:9,sX:1484,sY:1603,sFs:33,rtimeX:2002,rtimeY:1707});

/* ---------- Heatmap helpers ---------- */
const levelMap={'0':-4.5,'1':-3.5,'2':-2.5,'3':-1.6,'4':-.7,'5':0,'6':.7,'7':1.5,'8':2.4,'9':3.4,'R':5,'S':7.5};
function heatColor(v){
  const m=function(a,b,t){return Math.round(a+(b-a)*t);};
  if(v>=0){const t=Math.min(1,v/8);return 'rgb(255,'+m(250,30,t)+','+m(250,30,t)+')';}
  const t=Math.min(1,-v/8);
  return 'rgb('+m(248,20,t)+','+m(248,20,t)+','+m(252,140,t)+')';
}
function heatmap(g,rows,x,y,w,h,nm){
  const rh=h/rows.length;
  rows.forEach(function(r,i){
    const cw=w/r.length;
    for(let c=0;c<r.length;c++){
      el(g,'rect',{x:(x+c*cw).toFixed(2),y:(y+i*rh).toFixed(2),width:(cw+.5).toFixed(2),height:(rh+.4).toFixed(2),fill:heatColor(levelMap[r[c]]),'shape-rendering':'crispEdges'},nm+'-cell');
    }
  });
}
function track(g,runs,map,x,y,w,h,nm){
  const toks=runs.trim().split(/\s+/);
  let total=0;
  toks.forEach(function(t){total+=parseFloat(t.slice(1));});
  let pos=0;
  toks.forEach(function(t){
    const len=parseFloat(t.slice(1));
    const col=map[t[0]];
    if(col){
      el(g,'rect',{x:(x+pos/total*w).toFixed(2),y:y,width:(len/total*w+.3).toFixed(2),height:h,fill:col,'shape-rendering':'crispEdges'},nm);
    }
    pos+=len;
  });
}
function colTree(parent,list,combFrom,combTo,combStep,combBase,heights,sw,nm){
  const g=el(parent,'g',{fill:'none',stroke:'#111','stroke-width':sw},nm);
  let d='';
  list.forEach(function(b){d+='M'+b[0]+' '+b[3]+'V'+b[2]+'H'+b[1]+'V'+b[4];});
  el(g,'path',{d:d},nm+'-branches');
  let c='';let i=0;
  for(let x=combFrom;x<combTo;x+=combStep*2){
    const t=combBase-heights[i%heights.length];
    const t2=t-2-heights[(i+3)%heights.length]/3;
    c+='M'+x+' '+combBase+'V'+t+'H'+(x+combStep)+'V'+combBase;
    if(i%2===0)c+='M'+(x+combStep/2)+' '+t+'V'+t2+'H'+(x+combStep*2.5)+'V'+t;
    i++;
  }
  el(g,'path',{d:c},nm+'-leaves');
}
function rowTree(parent,tree,y0,rh,leafX,sw,nm){
  const g=el(parent,'g',{fill:'none',stroke:'#111','stroke-width':sw},nm);
  let d='';
  function walk(n){
    if(typeof n==='number')return [leafX,y0+(n+.5)*rh];
    const a=walk(n[1]),b=walk(n[2]);
    d+='M'+a[0]+' '+a[1]+'H'+n[0]+'V'+b[1]+'H'+b[0];
    return [n[0],(a[1]+b[1])/2];
  }
  walk(tree);
  el(g,'path',{d:d},nm+'-branches');
}
function legendBlock(g,title,items,tx,ty,sx,sy,sw,sh,lx,fs,tfs,nm){
  txt(g,tx,ty,title,tfs,{weight:'bold'},nm+'-title');
  items.forEach(function(it,i){
    el(g,'rect',{x:sx,y:sy+i*sh,width:sw,height:sh+.5,fill:it[1],'shape-rendering':'crispEdges'},nm+'-swatch');
    txt(g,lx,sy+(i+.5)*sh,it[0],fs,{},nm+'-label');
  });
}

/* ---------- Panel D ---------- */
(function(){
  const g=group('heatmap-pbta');
  colTree(g,[[251,810,1660,1713,1700],[195,307,1713,1739,1725],[171,216,1739,1749,1745],[161,180,1750,1762,1760],[199,234,1746,1758,1750],[221,246,1749,1762,1757],[276,339,1725,1747,1727],[270,282,1747,1762,1760],[296,383,1727,1751,1740],[291,304,1751,1762,1762],[336,430,1740,1750,1746],[321,352,1750,1762,1753],[339,368,1753,1762,1762],[392,468,1746,1755,1747],[382,411,1752,1764,1762],[445,491,1747,1755,1749],[423,473,1756,1764,1764],[486,500,1749,1764,1762],
    [626,993,1700,1727,1725],[538,716,1727,1744,1741],[513,565,1744,1763,1752],[538,590,1752,1760,1757],[529,555,1758,1765,1765],[566,605,1757,1765,1765],[602,637,1759,1766,1766],[667,764,1737,1745,1741],[656,678,1746,1756,1756],[650,668,1756,1765,1765],[714,813,1741,1755,1749],[783,851,1749,1757,1752],
    [910,1076,1725,1745,1733],[886,934,1745,1758,1752],[1007,1144,1733,1742,1737],[975,1037,1742,1752,1749],[1014,1062,1750,1762,1760],[1121,1167,1737,1752,1748],[1152,1201,1748,1758,1750],[1187,1251,1755,1765,1765]],
    155,1258,5,1771.5,[7,10,6,12,8,14,8,9,11,6,10,7,13,9,7,8],1.5,'column-dendrogram-pbta');
  const cnsMap={B:'#6ab0f5',O:'#bfc000',T:'#ffa033',W:'#ffffff',E:'#00d68f',H:'#ff80c0',C:'#00ccff'};
  const tumMap={T:'#00d5bf',M:'#ff80f0',G:'#10c848',L:'#5ccc00'};
  const subMap={M:'#ff80f0',C:'#00d8f0',S:'#ff9185',Y:'#f5b400'};
  track(g,annCnsD,cnsMap,155,1772,1105,21,'annotation-cns-region');
  track(g,annTumorD,tumMap,155,1797,1105,20,'annotation-tumor-type');
  track(g,annSubD,subMap,155,1822,1105,21,'annotation-molecular-subtype');
  txt(g,1267,1785,'CNS_REGION',19.5,{weight:'bold'},'annotation-label-cns-region');
  txt(g,1267,1810,'TUMOR_TYPE',19.5,{weight:'bold'},'annotation-label-tumor-type');
  txt(g,1267,1835,'MOLECULAR_SUBTYPE',19.5,{weight:'bold'},'annotation-label-molecular-subtype');
  heatmap(g,heatRowsD,155,1849,1105,738,'heatmap-pbta');
  const rh=738/geneNamesD.length;
  geneNamesD.forEach(function(n,i){txt(g,1267,1849+(i+.5)*rh,n,20,{},'row-label-'+n.toLowerCase());});
  const treeD=[45,
    [75,[96,[108,0,1],[100,2,[103,3,[110,4,5]]]],[86,[105,6,7],[97,8,[100,[118,9,10],[105,11,[112,12,[118,13,[123,14,15]]]]]]]],
    [64,[91,16,[97,17,[101,18,19]]],[84,[97,[107,20,21],[105,22,[110,23,24]]],[93,25,[101,26,[102,27,28]]]]]];
  rowTree(g,treeD,1849,rh,155,1.8,'row-dendrogram-pbta');
  el(g,'rect',{x:1513,y:1771,width:22,height:312,fill:'url(#heatGradD)'},'color-scale-bar');
  [['5',1838],['0',1930],['\u22125',2022]].forEach(function(t){txt(g,1542,t[1],t[0],20,{},'color-scale-label');});
  legendBlock(g,'CNS_REGION',legendCns,1576,1782,1576,1796,34,34.4,1616,20,19.5,'legend-cns-region');
  legendBlock(g,'TUMOR_TYPE',legendTumor,1576,2041,1576,2054,34,34.4,1616,20,19.5,'legend-tumor-type');
  legendBlock(g,'MOLECULAR_SUBTYPE',legendMol,1576,2264,1576,2278,34,34.4,1616,20,19.5,'legend-molecular-subtype');
})();

/* ---------- Panel G ---------- */
(function(){
  const g=group('mosaic-plot');
  function fill(r){return r>=4?'#2e6ee0':r>=2?'#9aa8e4':r>-2?'#e0e0e0':r>-4?'#fa92a4':'#f53b6b';}
  function col(counts,res,x,w,pxPer,gap,nm){
    let y=1947.7;
    counts.forEach(function(c,i){
      const h=c*pxPer;
      el(g,'rect',{x:x,y:y,width:w,height:h,fill:fill(res[i]),stroke:'#444','stroke-width':1.6},nm+'-cell');
      txt(g,x+w/2,y+h/2,String(c),20,{anchor:'middle'},nm+'-count');
      y+=h+gap;
    });
  }
  col(mosaicLowCounts,mosaicLowResid,1915,265,2.13,8,'mosaic-low');
  col(mosaicHighCounts,mosaicHighResid,2188,184,3.06,6.6,'mosaic-high');
  txt(g,2145,1901,'score_cat',21,{anchor:'middle',weight:'bold'},'mosaic-column-title');
  txt(g,2047,1926,'low',21,{anchor:'middle'},'mosaic-column-low');
  txt(g,2279,1926,'high',21,{anchor:'middle'},'mosaic-column-high');
  [['Grp3',1887,1949],['Grp3/Grp4',1857,1985],['Grp4',1894,2134],['MB-NOS',1868,2281],['SHH',1892,2331],['WNT',1868,2363]].forEach(function(t){
    txt(g,t[1],t[2],t[0],21,{anchor:'middle',rot:-90},'mosaic-row-label');
  });
  txt(g,1845,2232,'subgroup.',21,{anchor:'middle',rot:-90,weight:'bold'},'mosaic-row-title');
  txt(g,2464,1951,'Pearson',20.5,{},'residual-legend-title');
  txt(g,2464,1971,'residuals:',20.5,{},'residual-legend-title');
  const ytop=function(z){return 1740+z/1.96;};
  [[497,593,'#2e6ee0'],[593,728,'#9aa8e4'],[728,999,'#e0e0e0'],[999,1137,'#fa92a4'],[1137,1207,'#f53b6b']].forEach(function(s){
    el(g,'rect',{x:2474,y:ytop(s[0]),width:17,height:(s[1]-s[0])/1.96,fill:s[2]},'residual-legend-segment');
  });
  el(g,'line',{x1:2491,x2:2491,y1:ytop(497),y2:ytop(1207),stroke:'#000','stroke-width':1.6},'residual-legend-axis');
  [[497,500,'5.4'],[593,597,'4.0'],[728,735,'2.0'],[863,870,'0.0'],[999,1005,'\u22122.0'],[1137,1140,'\u22124.0'],[1207,1213,'\u22125.1']].forEach(function(t){
    el(g,'line',{x1:2491,x2:2505,y1:ytop(t[0]),y2:ytop(t[0]),stroke:'#000','stroke-width':1.6},'residual-legend-tick');
    txt(g,2558,ytop(t[1]),t[2],21,{anchor:'end'},'residual-legend-label');
  });
  txt(g,2447,2384,'p-value =',20.5,{},'mosaic-p-value');
  const pv=txt(g,2447,2409,'< 2.22 \u00d7 10',20.5,{},'mosaic-p-value');
  const sup=el(pv,'tspan',{'font-size':11,dy:-8},'mosaic-p-value-exponent');
  sup.textContent='\u221216';
})();

/* ---------- Panel E ---------- */
(function(){
  const g=group('pca-plot');
  const X=function(v){return 507+1885*v;};
  const Y=function(v){return 2988-1448*v;};
  function pts(list,col,nm){list.forEach(function(p){el(g,'circle',{cx:X(p[0]).toFixed(1),cy:Y(p[1]).toFixed(1),r:9,fill:col,'fill-opacity':.96},nm);});}
  pts(pcaShh,'#0fa84a','point-mb-shh');
  pts(pcaWnt,'#a855b0','point-mb-wnt');
  pts(pcaGroup4,'#0d80bd','point-mb-group4');
  pts(pcaGroup3,'#f8141e','point-mb-group3');
  el(g,'path',{d:'M169 2690V3251H812',fill:'none',stroke:'#000','stroke-width':3},'pca-axes');
  pcaYTicks.forEach(function(v){
    el(g,'line',{x1:161,x2:169,y1:Y(v),y2:Y(v),stroke:'#333','stroke-width':2.2},'y-tick');
    txt(g,156,Y(v),fmtNeg(v,1),23,{anchor:'end',fill:'#4d4d4d'},'y-tick-label');
  });
  pcaXTicks.forEach(function(v){
    el(g,'line',{x1:X(v),x2:X(v),y1:3251,y2:3259,stroke:'#333','stroke-width':2.2},'x-tick');
    txt(g,X(v),3276,fmtNeg(v,1),23,{anchor:'middle',fill:'#4d4d4d'},'x-tick-label');
  });
  txt(g,492,3309,'PC1 (27.41%)',29,{anchor:'middle'},'x-axis-title');
  txt(g,94,2970,'PC2 (11.47%)',29,{anchor:'middle',rot:-90},'y-axis-title');
  txt(g,858,2902,'MOLECULAR_SUBTYPE',27.6,{},'legend-title');
  [['MB, Group3','#f8141e',2944],['MB, Group4','#0d80bd',2976],['MB, SHH','#0fa84a',3007],['MB, WNT','#a855b0',3039]].forEach(function(e){
    el(g,'circle',{cx:873,cy:e[2],r:9,fill:e[1]},'legend-marker');
    txt(g,905,e[2]+3,e[0],22.4,{},'legend-entry');
  });
})();

/* ---------- Panel H ---------- */
(function(){
  const g=group('heatmap-williamson');
  colTree(g,[[1521,1893.6,2638,2723,2703],[1398,1644,2723,2737,2729],[1349,1448,2737,2770,2746],[1411,1483,2746,2759,2759],[1387,1435,2759,2770,2765],[1465,1500,2759,2775,2765],[1566,1723,2729,2748,2739],[1538,1596,2748,2765,2752],[1568,1622,2752,2763,2759],[1598,1645,2759,2770,2768],[1689,1755,2739,2759,2748],[1718,1793,2748,2767,2755],[1760,1827,2755,2768,2767],[1675,1701,2759,2768,2770],
    [1850,1939,2703,2777,2723],[1889,1988,2723,2751,2735],[1874,1905,2751,2762,2762],[1939,2036,2735,2752,2746],[1917,1962,2752,2762,2759],[2014,2054,2746,2765,2759],[2037,2072,2759,2765,2765],
    [1342,1355,2771,2785,2785],[1370,1403,2768,2780,2780],[1423,1446,2766,2780,2780],[1465,1486,2772,2785,2785],[1484,1517,2763,2780,2780],[1531,1544,2766,2780,2780],[1563,1575,2763,2780,2780],[1585,1611,2771,2785,2785],[1639,1655,2768,2782,2782],[1664,1691,2765,2780,2780],[1708,1730,2768,2780,2780],[1747,1776,2768,2780,2780],[1815,1835,2768,2780,2780],[1864,1888,2763,2780,2780],[1903,1934,2763,2778,2778],[1939,1963,2768,2780,2780],[1968,1997,2771,2785,2785],[2007,2026,2765,2780,2780],[2038,2060,2770,2782,2782],[2060,2089,2763,2780,2780]],
    1341,2092,2,2790.7,[10,16,12,20,9,22,14,10,17,21,12,13,18,11,15,10],1.7,'column-dendrogram-williamson');
  const gMap={F:'#00d8c0',M:'#00d69a',N:'#ffa020'};
  const sMap={C:'#00d8f5',Y:'#f5b400',L:'#a4a9ff',P:'#ff80f5',G:'#00cf30',W:'#e6b800'};
  const pMap={A:'#a6c800',B:'#ff99ff'};
  const oMap={S:'#ff9c94',C:'#00c8f5'};
  track(g,annGenderH,gMap,1341,2792,753,27,'annotation-gender');
  track(g,annSubH,sMap,1341,2826,753,27,'annotation-subgroups');
  track(g,annPfsH,pMap,1341,2861,753,27,'annotation-pfs-status');
  track(g,annOsH,oMap,1341,2895,753,27,'annotation-os-status');
  txt(g,2102,2810,'gender',27,{weight:'bold'},'annotation-label-gender');
  txt(g,2102,2844,'subgroups',27,{weight:'bold'},'annotation-label-subgroups');
  txt(g,2102,2879,'pfs_status',27,{weight:'bold'},'annotation-label-pfs-status');
  txt(g,2102,2913,'os_status',27,{weight:'bold'},'annotation-label-os-status');
  heatmap(g,heatRowsH,1341,2931,753,586,'heatmap-williamson');
  const rh=586/geneNamesH.length;
  geneNamesH.forEach(function(n,i){txt(g,2102,2931+(i+.5)*rh,n,27,{},'row-label-'+n.toLowerCase());});
  const treeH=[1188,
    [1227,[1251,[1271,0,1],[1270,2,[1285,3,4]]],[1238,5,[1246,6,[1255,7,[1262,8,[1270,9,10]]]]]],
    [1220,[1252,11,12],[1251,[1271,13,14],[1267,15,[1278,16,17]]]]];
  rowTree(g,treeH,2931,rh,1341,2,'row-dendrogram-williamson');
  el(g,'rect',{x:2253,y:2790,width:28,height:430,fill:'url(#heatGradH)'},'color-scale-bar');
  [['4',2856],['2',2933],['0',3008],['\u22122',3085],['\u22124',3162]].forEach(function(t){txt(g,2290,t[1],t[0],27,{},'color-scale-label');});
  legendBlock(g,'gender',legendGender,2336,2806,2336,2824,48,47,2394,27,27,'legend-gender');
  legendBlock(g,'subgroups',legendSubgroups,2336,3019,2336,3037,48,47.3,2394,27,27,'legend-subgroups');
  legendBlock(g,'pfs_status',legendPfs,2336,3375,2336,3393,48,48.5,2394,27,27,'legend-pfs-status');
})();

/* ---------- Panel letters and titles (drawn last so nothing covers them) ---------- */
const panels=group('panel-letters');
[["A",76,112],["B",1455,156],["C",107,888],["D",78,1753],["E",66,2745],["F",1413,917],["G",1929,1880],["H",2056,2726]].forEach(function(p){
  txt(panels,p[1],p[2],p[0],72,{base:1},'panel-letter-'+p[0].toLowerCase());
});
const titles=group('panel-titles');
[["PBTA",931,93,'a'],["PBTA",745,914,'c'],["PBTA",1147,1656,'d'],["PBTA",844,2769,'e'],["Williamson",2130,877,'f'],["Williamson",2190,1884,'g'],["Williamson",2155,2725,'h']].forEach(function(p){
  txt(titles,p[1],p[2],p[0],52,{base:1},'panel-title-'+p[3]);
});
</script>
</body>
</html>
